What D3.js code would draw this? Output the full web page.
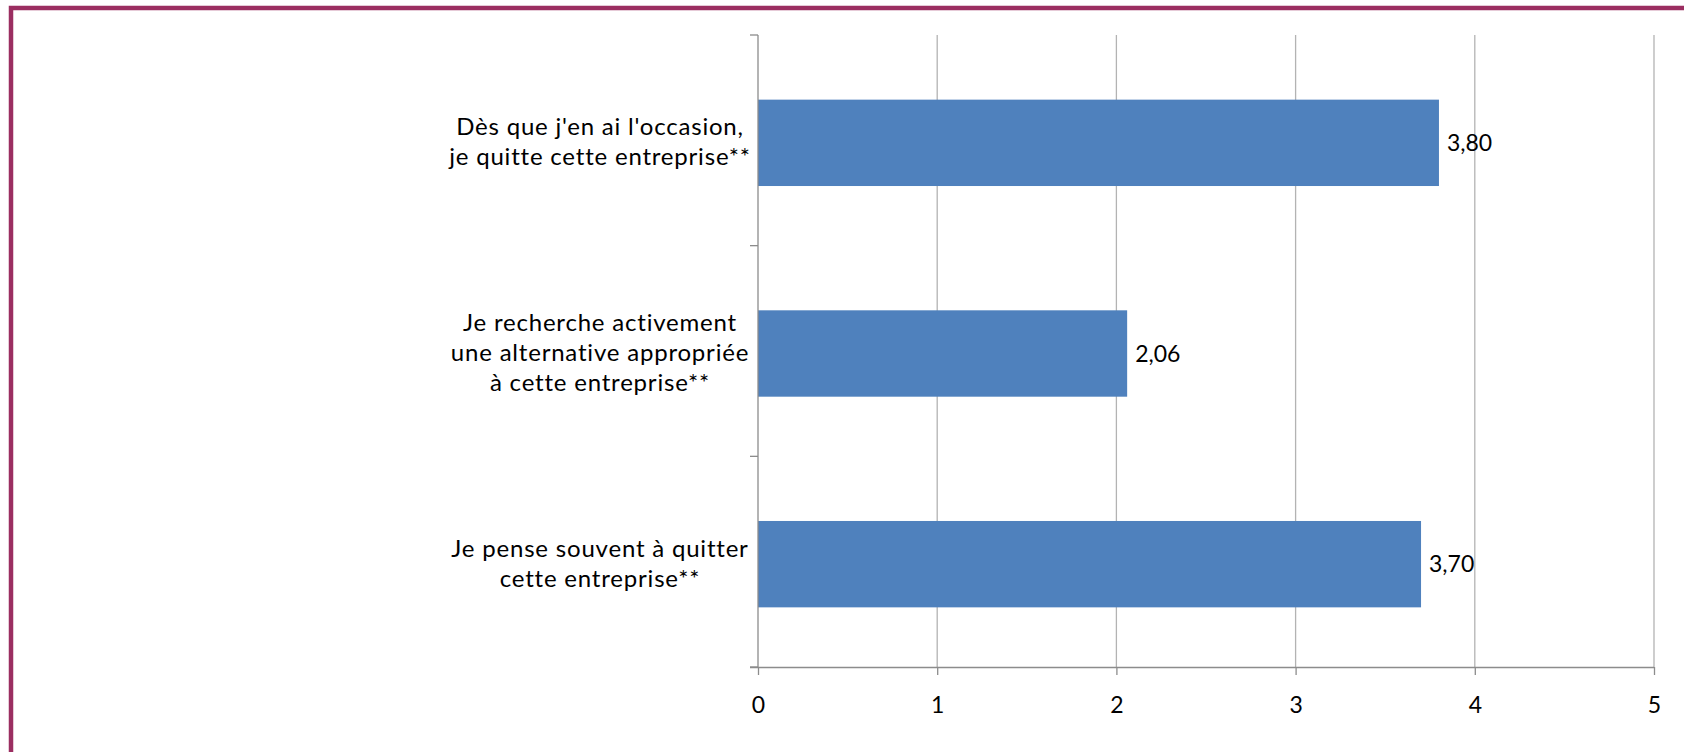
<!DOCTYPE html>
<html>
<head>
<meta charset="utf-8">
<script src="https://cdn.jsdelivr.net/npm/d3@7"></script>
<style>
  html, body { margin: 0; padding: 0; background: #fff; }
  svg { display: block; }
</style>
</head>
<body>
<svg id="chart" width="1684" height="752"></svg>
<script>
// Category labels (top to bottom), each split into lines
const categories = [
  ["Dès que j'en ai l'occasion,", "je quitte cette entreprise**"],
  ["Je recherche activement", "une alternative appropriée", "à cette entreprise**"],
  ["Je pense souvent à quitter", "cette entreprise**"]
];
const values = [3.80, 2.06, 3.70];
const valueLabels = ["3,80", "2,06", "3,70"];
const xTicks = [0, 1, 2, 3, 4, 5];

const svg = d3.select("#chart");
const W = 1684, H = 752;
const font = "Lato, 'Open Sans', sans-serif";

// Frame around the chart area
svg.append("rect")
  .attr("x", 11).attr("y", 8)
  .attr("width", W + 20).attr("height", H + 20)
  .attr("fill", "none")
  .attr("stroke", "#9b2e61")
  .attr("stroke-width", 4.5);

const plot = { left: 758, right: 1654, top: 35, bottom: 667 };

const x = d3.scaleLinear().domain([0, 5]).range([plot.left, plot.right]);
const y = d3.scaleBand()
  .domain(d3.range(categories.length))
  .range([plot.top + 2.5, plot.bottom + 2.5])
  .paddingInner(0.59).paddingOuter(0.295);

// Vertical gridlines
svg.append("g")
  .selectAll("line")
  .data(xTicks.filter(d => d > 0))
  .join("line")
  .attr("x1", d => x(d)).attr("x2", d => x(d))
  .attr("y1", plot.top).attr("y2", plot.bottom)
  .attr("stroke", "#b3b3b3").attr("stroke-width", 1.3);

// Bars
svg.append("g")
  .selectAll("rect")
  .data(values)
  .join("rect")
  .attr("x", x(0))
  .attr("y", (d, i) => y(i))
  .attr("width", d => x(d) - x(0))
  .attr("height", y.bandwidth())
  .attr("fill", "#4f81bd");

// Horizontal axis
const xAxis = svg.append("g")
  .attr("transform", `translate(0,${plot.bottom})`)
  .call(d3.axisBottom(x).tickValues(xTicks).tickSize(8).tickPadding(22).tickFormat(d3.format("d")));
xAxis.select(".domain").attr("stroke", "#8c8c8c").attr("stroke-width", 1.3)
  .attr("d", `M${plot.left - 8},0.5H${plot.right}`);
xAxis.selectAll(".tick line").attr("stroke", "#8c8c8c").attr("stroke-width", 1.3);
xAxis.selectAll(".tick text")
  .attr("fill", "#000").attr("font-size", 23).attr("font-family", font);

// Vertical axis with ticks at category boundaries
const yAxisG = svg.append("g");
yAxisG.append("line")
  .attr("x1", plot.left).attr("x2", plot.left)
  .attr("y1", plot.top).attr("y2", plot.bottom)
  .attr("stroke", "#8c8c8c").attr("stroke-width", 1.3);
const step = (plot.bottom - plot.top) / categories.length;
yAxisG.selectAll("line.tk")
  .data(d3.range(categories.length + 1))
  .join("line")
  .attr("class", "tk")
  .attr("x1", plot.left - 8).attr("x2", plot.left)
  .attr("y1", d => plot.top + d * step).attr("y2", d => plot.top + d * step)
  .attr("stroke", "#8c8c8c").attr("stroke-width", 1.3);

// Category labels, centred multi-line
const lineH = 30;
const catG = svg.append("g");
categories.forEach((lines, i) => {
  const cy = plot.top + (i + 0.5) * step + 1.5;
  const t = catG.append("text")
    .attr("text-anchor", "middle")
    .attr("font-family", font)
    .attr("font-size", 24)
    .attr("letter-spacing", 0.8)
    .attr("fill", "#000");
  lines.forEach((ln, j) => {
    t.append("tspan")
      .attr("x", 600)
      .attr("y", cy + (j - (lines.length - 1) / 2) * lineH)
      .attr("dy", "0.35em")
      .text(ln);
  });
});

// Value labels next to each bar
svg.append("g")
  .selectAll("text")
  .data(values)
  .join("text")
  .attr("x", d => x(d) + 8)
  .attr("y", (d, i) => y(i) + y.bandwidth() / 2)
  .attr("dy", "0.35em")
  .attr("font-family", font)
  .attr("font-size", 23)
  .attr("fill", "#000")
  .text((d, i) => valueLabels[i]);
</script>
</body>
</html>
